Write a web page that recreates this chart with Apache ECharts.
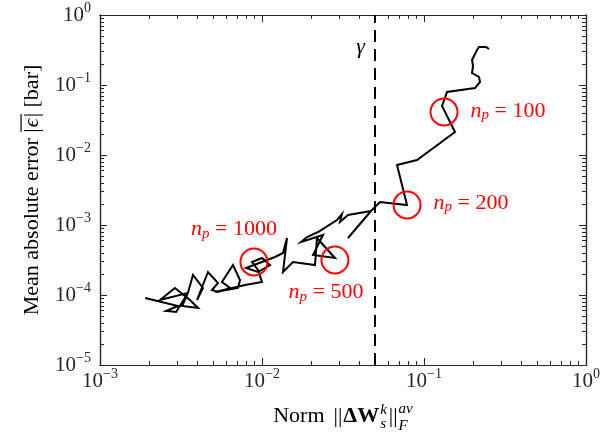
<!DOCTYPE html>
<html><head><meta charset="utf-8">
<script src="https://cdn.jsdelivr.net/npm/echarts@6/dist/echarts.min.js"></script>
<style>html,body{margin:0;padding:0;background:#fff}#c{width:613px;height:434px}</style>
</head><body><div id="c"></div>
<script>
// ---- data ----
const pathX = [0.00190,0.00303,0.00256,0.00295,0.00349,0.00321,0.00403,0.00359,0.00290,0.00235,
  0.00349,0.00375,0.00432,0.00397,0.00464,0.00535,0.00491,0.00535,0.00635,0.00566,
  0.00662,0.00732,0.00711,0.00513,0.00786,0.0100,0.00945,0.00868,0.0100,0.01121,
  0.00945,0.00797,0.01203,0.01348,0.01427,0.01348,0.01554,0.02125,0.02185,0.02822,
  0.02065,0.02380,0.01741,0.01896,0.02217,0.02904,0.03117,0.03030,0.03396,0.04708,
  0.03396,0.04708,0.05351,0.07856,0.06813,0.09054,0.1554,0.1292,0.1367,0.1387,
  0.2065,0.2217,0.2185,0.1979,0.2007,0.1979,0.2125,0.2185,0.2414,0.2519];
const pathY = [9.06e-5,6.96e-5,5.91e-5,5.72e-5,1.068e-4,6.96e-5,6.52e-5,8.48e-5,1.259e-4,8.48e-5,
  1.068e-4,1.931e-4,1.259e-4,8.48e-5,2.131e-4,1.484e-4,1.179e-4,1.104e-4,1.259e-4,1.533e-4,
  2.683e-4,1.638e-4,1.259e-4,1.104e-4,1.389e-4,1.533e-4,2.276e-4,2.961e-4,3.377e-4,2.683e-4,
  2.131e-4,2.430e-4,3.490e-4,3.981e-4,6.52e-4,2.131e-4,2.961e-4,2.683e-4,6.52e-4,3.377e-4,
  3.728e-4,7.197e-4,5.72e-4,6.74e-4,7.943e-4,1.179e-3,1.436e-3,1.104e-3,1.389e-3,1.585e-3,
  6.52e-4,1.585e-3,2.131e-3,1.931e-3,7.197e-3,8.48e-3,2.131e-2,5.012e-2,7.197e-2,7.943e-2,
  9.06e-2,0.1104,0.1301,0.1484,0.1868,0.2276,0.3162,0.3490,0.3490,0.3268];
const npLabels = ['100','200','500','1000'];
const circX = [0.1329, 0.0786, 0.0282, 0.00892];
const circY = [0.04113, 0.001931, 0.0003162, 0.0002961];
const gammaX = 0.05;
const xMajor = [0.001, 0.01, 0.1, 1];
const yMajor = [1e-5, 1e-4, 1e-3, 1e-2, 1e-1, 1];

function minorsOf(majors){
  const out = [];
  for (let i = 0; i < majors.length - 1; i++)
    for (let k = 2; k <= 9; k++) out.push(+(majors[i] * k).toPrecision(3));
  return out;
}
const xMinor = minorsOf(xMajor), yMinor = minorsOf(yMajor);

const SERIF = '"Liberation Serif", "DejaVu Serif", serif';
const AX = '#262626';
function powLabel(v){
  const e = Math.round(Math.log10(v));
  return '{b|10}{s|' + (e < 0 ? '\u2212' + (-e) : String(e)) + '}';
}
const tickRich = {
  b: {fontSize: 21, fontFamily: SERIF, color: AX},
  s: {fontSize: 14, fontFamily: SERIF, color: AX, padding: [0, 0, 14, 0]}
};

function axis(dir, pos, major, labels){
  const majors = dir === 'x' ? xMajor : yMajor;
  const minors = dir === 'x' ? xMinor : yMinor;
  return {
    type: 'log', logBase: 10,
    min: majors[0], max: majors[majors.length - 1],
    position: pos,
    axisLine: {show: true, onZero: false, lineStyle: {color: AX, width: 1.2}},
    axisTick: {show: true, inside: true, length: major ? 7 : 4,
      customValues: major ? majors : minors, lineStyle: {color: AX, width: 1}},
    axisLabel: {show: labels, customValues: majors, formatter: powLabel, rich: tickRich,
      margin: dir === 'x' ? 2 : 9},
    splitLine: {show: false}, minorTick: {show: false}, minorSplitLine: {show: false}
  };
}

const chart = echarts.init(document.getElementById('c'), null, {renderer: 'canvas'});

const labelPlace = [
  {position: 'right', distance: 12, offset: [0, -1]},
  {position: 'right', distance: 12, offset: [0, -2]},
  {position: 'bottom', distance: 6, offset: [-9, 0]},
  {position: 'top', distance: 6, offset: [-20, 0]}
];
const RED = '#ff0000';

const option = {
  animation: false,
  backgroundColor: '#fff',
  grid: {left: 100, right: 27, top: 15, bottom: 69, containLabel: false},
  xAxis: [axis('x','bottom',true,true), axis('x','bottom',false,false),
          axis('x','top',true,false), axis('x','top',false,false)],
  yAxis: [axis('y','left',true,true), axis('y','left',false,false),
          axis('y','right',true,false), axis('y','right',false,false)],
  series: [
    {
      type: 'line', xAxisIndex: 0, yAxisIndex: 0,
      data: pathX.map((x, i) => [x, pathY[i]]),
      showSymbol: false, symbol: 'none',
      lineStyle: {color: '#000', width: 2, join: 'miter', opacity: 1},
      silent: true, z: 3,
      markLine: {
        silent: true, symbol: ['none', 'none'],
        label: {show: false},
        lineStyle: {color: '#000', width: 2, type: [12, 7], opacity: 1},
        data: [{xAxis: gammaX}]
      }
    },
    {
      type: 'scatter', xAxisIndex: 0, yAxisIndex: 0,
      symbol: 'circle', symbolSize: 27, z: 4, silent: true,
      itemStyle: {color: 'rgba(0,0,0,0)', borderColor: RED, borderWidth: 2, opacity: 1},
      data: circX.map((x, i) => ({
        value: [x, circY[i]],
        label: Object.assign({show: true}, labelPlace[i],
          {formatter: '{i|n}{sub|p}{r| = ' + npLabels[i] + '}'})
      })),
      label: {
        opacity: 1,
        rich: {
          i: {fontSize: 22, fontFamily: SERIF, fontStyle: 'italic', color: RED, opacity: 1},
          sub: {fontSize: 15, fontFamily: SERIF, fontStyle: 'italic', color: RED, padding: [9, 0, 0, 0], opacity: 1},
          r: {fontSize: 22, fontFamily: SERIF, color: RED, opacity: 1}
        }
      }
    }
  ]
};
chart.setOption(option);

// ---- axis titles and gamma annotation (text layout) ----
const cv = document.createElement('canvas').getContext('2d');
function w(t, font){ cv.font = font; return cv.measureText(t).width; }
function F(size, style, weight){ return (style || 'normal') + ' ' + (weight || 'normal') + ' ' + size + 'px ' + SERIF; }
function txt(t, x, y, size, style, weight, color){
  return {type: 'text', x: x, y: y, silent: true,
    style: {text: t, fontSize: size, fontFamily: SERIF, fontStyle: style || 'normal',
      fontWeight: weight || 'normal', fill: color || '#000', verticalAlign: 'middle', align: 'left'}};
}
const M = 22, S = 15;
function mid(base, size){ return base - 0.34 * size; }

// x-axis title: Norm ||ΔW_s^k||_F^av
const xc = [];
let x = 0;
xc.push(txt('Norm', x, mid(0, M), M)); x += w('Norm', F(M)) + 9;
xc.push(txt('||', x, mid(0, M), M)); x += w('||', F(M)) + 1;
xc.push(txt('\u0394W', x, mid(0, M), M, 'normal', 'bold')); x += w('\u0394W', F(M, 'normal', 'bold')) + 1;
xc.push(txt('k', x, mid(-9, S), S, 'italic')); xc.push(txt('s', x, mid(5, S), S, 'italic'));
x += Math.max(w('k', F(S, 'italic')), w('s', F(S, 'italic'))) + 2;
xc.push(txt('||', x, mid(0, M), M)); x += w('||', F(M)) + 1;
xc.push(txt('av', x, mid(-10, S), S, 'italic')); xc.push(txt('F', x, mid(7, S), S, 'italic'));
x += Math.max(w('av', F(S, 'italic')), w('F', F(S, 'italic')));
const xTotal = x;
const gridL = 100, gridR = 613 - 27, gridT = 15, gridB = 434 - 69;

// y-axis title: Mean absolute error |ϵ| (overlined) [bar]
const yc = [];
let y = 0;
const p1 = 'Mean absolute error ';
yc.push(txt(p1, y, mid(0, M), M)); y += w(p1, F(M));
const olStart = y;
yc.push(txt('|', y, mid(0, M), M)); y += w('|', F(M)) + 1;
yc.push(txt('\u03f5', y, mid(0, M), M, 'italic')); y += w('\u03f5', F(M, 'italic')) + 1;
yc.push(txt('|', y, mid(0, M), M)); y += w('|', F(M));
const olEnd = y;
yc.push(txt(' [bar]', y, mid(0, M), M)); y += w(' [bar]', F(M));
const yTotal = y;
yc.push({type: 'line', silent: true,
  shape: {x1: olStart + 1, y1: -M * 0.86, x2: olEnd - 1, y2: -M * 0.86},
  style: {stroke: '#000', lineWidth: 1.2}});

const gpx = chart.convertToPixel({xAxisIndex: 0}, gammaX);

chart.setOption({
  graphic: [
    {type: 'group', x: (gridL + gridR) / 2 - xTotal / 2, y: 424, children: xc},
    {type: 'group', x: 40, y: (gridT + gridB) / 2 + yTotal / 2, rotation: Math.PI / 2, children: yc},
    txt('\u03b3', gpx - 19, gridT + 32, M, 'italic')
  ]
});
</script></body></html>
